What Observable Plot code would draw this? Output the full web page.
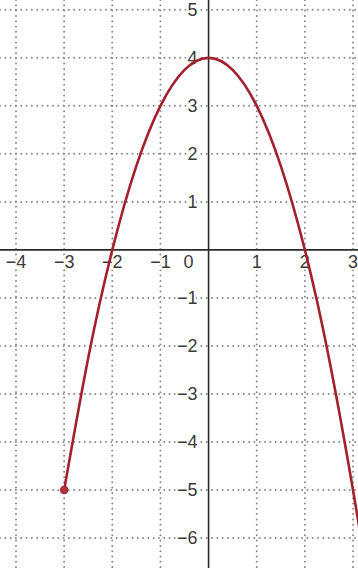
<!DOCTYPE html>
<html>
<head>
<meta charset="utf-8">
<script src="https://cdn.jsdelivr.net/npm/d3@7"></script>
<script src="https://cdn.jsdelivr.net/npm/@observablehq/plot@0.6"></script>
<style>
  html, body { margin: 0; padding: 0; background: #fff; }
  #chart svg { display: block; }
</style>
</head>
<body>
<div id="chart"></div>
<script>
// Curve values (graph of the parabola)
const curveX = [-3, -2.5, -2, -1.5, -1, -0.5, 0, 0.5, 1, 1.5, 2, 2.5, 3, 3.25];
const curveY = [-5, -2.25, 0, 1.75, 3, 3.75, 4, 3.75, 3, 1.75, 0, -2.25, -5, -6.56];
// Endpoint marked with a dot
const pointX = [-3];
const pointY = [-5];
// Tick labels
const xTicks = [-4, -3, -2, -1, 1, 2, 3];
const yTicks = [5, 4, 3, 2, 1, -1, -2, -3, -4, -5, -6];
const originLabel = ["0"];

const fmt = v => (v < 0 ? "\u2212" + Math.abs(v) : String(v));
const curve = curveX.map((x, i) => ({x, y: curveY[i]}));
const pts = pointX.map((x, i) => ({x, y: pointY[i]}));

const gridStyle = {stroke: "#8a8a8a", strokeWidth: 2, strokeDasharray: "0 5.3", strokeLinecap: "round"};
const labelStyle = {fontSize: 18, fill: "#3a3a3a", stroke: "white", strokeWidth: 4, fontFamily: "Liberation Sans, Arial, sans-serif"};

const chart = Plot.plot({
  width: 358,
  height: 568,
  margin: 0,
  style: {background: "#fff", fontFamily: "Liberation Sans, Arial, sans-serif"},
  x: {domain: [-4.322, 3.114], axis: null},
  y: {domain: [-6.635, 5.194], axis: null},
  marks: [
    Plot.ruleX(xTicks, {x: d => d, ...gridStyle}),
    Plot.ruleY(yTicks, {y: d => d, ...gridStyle}),
    Plot.text(xTicks, {x: d => d, y: 0, text: fmt, dy: 12, textAnchor: "middle", lineAnchor: "middle", ...labelStyle}),
    Plot.text(yTicks, {x: 0, y: d => d, text: fmt, dx: -11, textAnchor: "end", lineAnchor: "middle", ...labelStyle}),
    Plot.text(originLabel, {x: 0, y: 0, text: d => d, dx: -20, dy: 12, textAnchor: "middle", lineAnchor: "middle", ...labelStyle}),
    Plot.ruleX([0], {stroke: "#2b2b2b", strokeWidth: 1.6}),
    Plot.ruleY([0], {stroke: "#2b2b2b", strokeWidth: 1.6}),
    Plot.line(curve, {x: "x", y: "y", curve: "natural", stroke: "#a3212c", strokeWidth: 2.6, clip: true}),
    Plot.dot(pts, {x: "x", y: "y", r: 3.8, fill: "#b2323c", stroke: "#a3212c", strokeWidth: 1})
  ]
});
document.getElementById("chart").appendChild(chart);
</script>
</body>
</html>
